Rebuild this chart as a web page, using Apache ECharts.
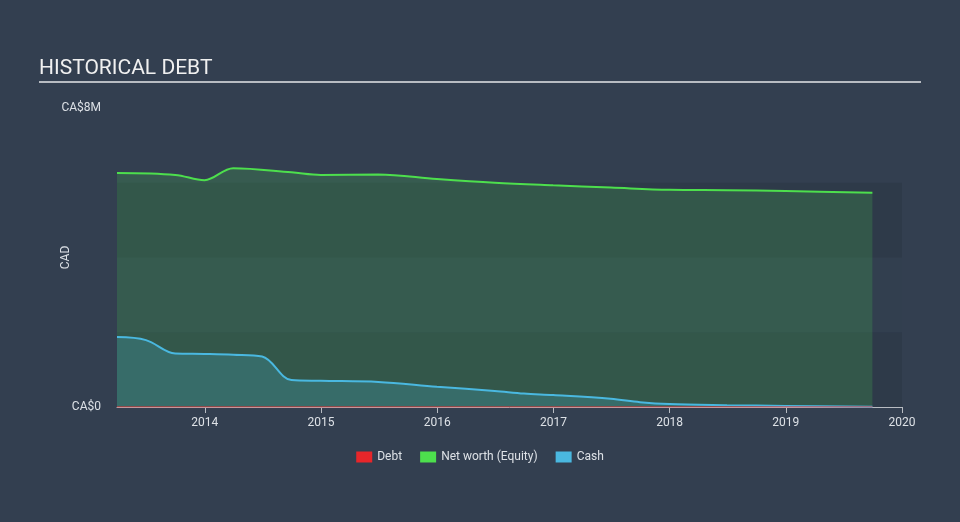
<!DOCTYPE html>
<html>
<head>
<meta charset="utf-8">
<script src="https://cdn.jsdelivr.net/npm/echarts@6/dist/echarts.min.js"></script>
<style>
html,body{margin:0;padding:0;background:#333f50;}
#c{width:960px;height:522px;}
</style>
</head>
<body>
<div id="c"></div>
<script>
// Data (CAD, millions)
const equityDates = ['2013-03-31','2013-09-30','2013-12-31','2014-03-31','2014-09-30','2014-12-31','2015-06-30','2015-12-31','2016-06-30','2016-12-31','2017-06-30','2017-12-31','2018-06-30','2018-12-31','2019-09-30'];
const equityValues = [6.26,6.21,6.07,6.39,6.28,6.21,6.22,6.10,6.00,5.93,5.87,5.81,5.80,5.78,5.73];
const cashDates = ['2013-03-31','2013-06-30','2013-09-30','2013-12-31','2014-03-31','2014-06-30','2014-09-30','2014-12-31','2015-06-30','2015-12-31','2016-06-30','2016-09-30','2016-12-31','2017-06-30','2017-09-30','2017-12-31','2018-06-30','2018-12-31','2019-09-30'];
const cashValues = [1.87,1.79,1.43,1.42,1.40,1.35,0.72,0.70,0.67,0.54,0.43,0.36,0.32,0.22,0.13,0.08,0.05,0.03,0.01];
const debtDates = ['2013-03-31','2019-09-30'];
const debtValues = [0,0];
const yearTicks = [2014,2015,2016,2017,2018,2019,2020];

function decYear(s){
  const d = new Date(s + 'T00:00:00Z');
  const y = d.getUTCFullYear();
  const a = Date.UTC(y,0,1), b = Date.UTC(y+1,0,1);
  return y + (d.getTime()-a)/(b-a);
}
function pairs(dates, vals){ return dates.map((d,i)=>[decYear(d), vals[i]*1e6]); }

const chart = echarts.init(document.getElementById('c'));
const txt = '#dde1e6';
chart.setOption({
  backgroundColor:'#333f50',
  animation:false,
  textStyle:{fontFamily:'Roboto'},
  graphic:[
    {type:'text', left:39, top:58, style:{text:'HISTORICAL DEBT', fill:'#f0f0f0', font:'400 21px Roboto'}},
    {type:'rect', shape:{x:39,y:81,width:882,height:2}, style:{fill:'#b8bcc2'}}
  ],
  legend:{
    bottom:54, left:'center', icon:'rect', itemWidth:16, itemHeight:11, itemGap:18,
    textStyle:{color:txt, fontSize:12},
    data:['Debt','Net worth (Equity)','Cash']
  },
  grid:{left:117, right:58, top:108, bottom:115},
  xAxis:{
    type:'value', min:decYear(equityDates[0]), max:2020,
    splitLine:{show:false},
    axisLine:{lineStyle:{color:'#b8bcc2'}},
    axisTick:{show:true, length:6, lineStyle:{color:'#b8bcc2'}, customValues:yearTicks},
    axisLabel:{color:txt, fontSize:12, margin:10, customValues:yearTicks, formatter:v=>String(Math.round(v))}
  },
  yAxis:{
    type:'value', min:0, max:8e6, interval:2e6,
    name:'CAD', nameLocation:'middle', nameGap:45, nameRotate:90, nameMoveOverlap:false,
    nameTextStyle:{color:txt, fontSize:12},
    axisLine:{show:false}, axisTick:{show:false},
    splitLine:{show:false},
    splitArea:{show:true, areaStyle:{color:['#2e3a49','#323f4f','#2e3a49','rgba(0,0,0,0)']}},
    axisLabel:{color:txt, fontSize:12, margin:16, formatter:v=> v===0?'CA$0':(v===8e6?'CA$8M':'')}
  },
  series:[
    {name:'Net worth (Equity)', type:'line', data:pairs(equityDates,equityValues), smooth:0.35, symbol:'none',
     lineStyle:{color:'#4ddf4d', width:2}, itemStyle:{color:'#4ddf4d'},
     areaStyle:{color:'rgba(70,200,80,0.3)'}, z:2},
    {name:'Cash', type:'line', data:pairs(cashDates,cashValues), smooth:0.35, symbol:'none',
     lineStyle:{color:'#4ab8e0', width:2}, itemStyle:{color:'#4ab8e0'},
     areaStyle:{color:'rgba(70,175,200,0.35)'}, z:3},
    {name:'Debt', type:'line', data:pairs(debtDates,debtValues), symbol:'none',
     lineStyle:{color:'#e8262a', width:1}, itemStyle:{color:'#e8262a'}, z:4}
  ]
});
</script>
</body>
</html>
